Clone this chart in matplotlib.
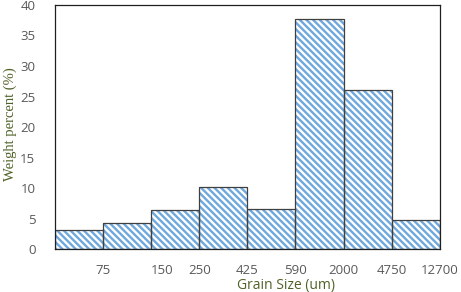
import matplotlib.pyplot as plt
import numpy as np

# weight percent per sieve fraction
weights = [3.1, 4.2, 6.4, 10.2, 6.5, 37.7, 26.1, 4.7]
sizes = ["75", "150", "250", "425", "590", "2000", "4750", "12700"]
yticks = [0, 5, 10, 15, 20, 25, 30, 35, 40]

plt.rcParams['hatch.linewidth'] = 1.7

fig = plt.figure(figsize=(4.61, 2.92), dpi=100)
ax = fig.add_axes([0.119, 0.147, 0.835, 0.836])

x = np.arange(len(weights)) + 0.5
ax.bar(x, weights, width=1.0, facecolor='white', edgecolor='#6FA8DC',
       hatch='\\\\\\\\\\', linewidth=0)
ax.bar(x, weights, width=1.0, fill=False, edgecolor='#404040', linewidth=0.9)

# size labels sit on the bin edges
edges = np.arange(1, len(sizes) + 1).astype(float)
edges[1] += 0.22
ax.set_xticks(edges)
ax.set_xticklabels(sizes, fontsize=9.5, color='#595959', family='Open Sans')
ax.set_xlim(0, len(weights))
ax.set_ylim(0, 40)
ax.set_yticks(yticks)
ax.set_yticklabels([str(v) for v in yticks], fontsize=9.5, color='#595959',
                   family='Open Sans')
ax.tick_params(length=0)
ax.tick_params(axis='y', pad=14)
ax.tick_params(axis='x', pad=11)

for s in ax.spines.values():
    s.set_color('#202020')
    s.set_linewidth(0.9)

ax.set_ylabel('Weight percent (%)', family='Liberation Serif', fontsize=10.5,
              color='#4F6228')
ax.yaxis.set_label_coords(-0.098, 0.51)
ax.set_xlabel('Grain Size (um)', family='Open Sans', fontsize=10,
              color='#4F6228')
ax.xaxis.set_label_coords(0.6, -0.118)

fig.savefig('out.png', dpi=100)
